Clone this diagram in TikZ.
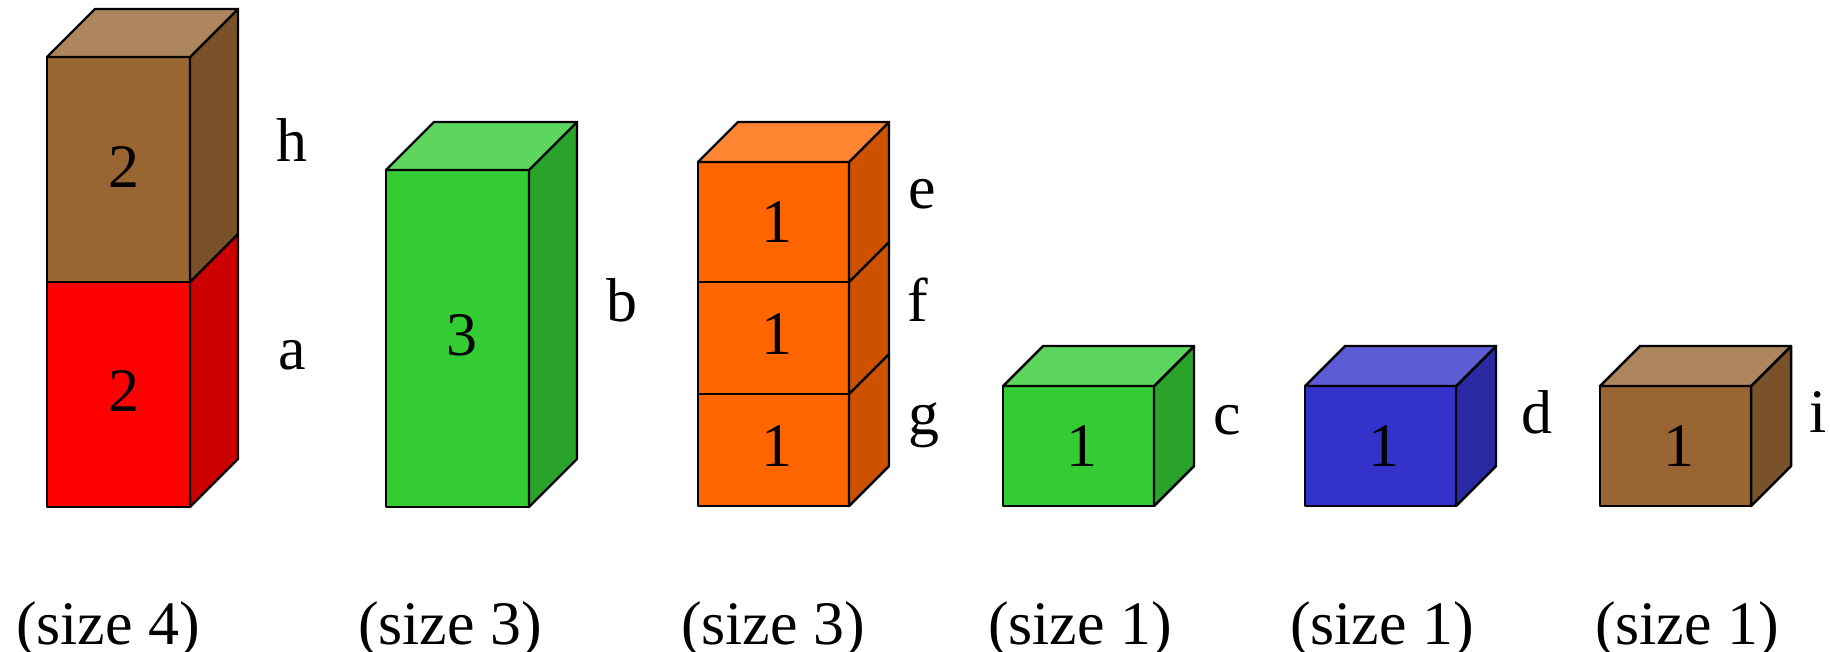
\documentclass[tikz,border=0pt]{standalone}
\usepackage{fontspec}
\setmainfont{Liberation Serif}
\definecolor{boxBrown}{RGB}{153,102,51}
\definecolor{boxRed}{RGB}{255,0,0}
\definecolor{boxGreen}{RGB}{51,204,51}
\definecolor{boxOrange}{RGB}{255,102,0}
\definecolor{boxBlue}{RGB}{51,51,204}
% front and side of one unit: left, top, bottom, width, depth, colour
\newcommand{\unitbody}[6]{%
\filldraw[fill=#6] (#1,#2) rectangle ({#1+#4},#3);
\filldraw[fill=#6!80!black] ({#1+#4},#2) -- ++(#5,-#5) -- ({#1+#4+#5},{#3-#5}) -- ({#1+#4},#3) -- cycle;}
% lid of a stack: left, top, width, depth, colour
\newcommand{\unitlid}[5]{%
\filldraw[fill=#5!80!white] (#1,#2) -- ++(#3,0) -- ++(#4,-#4) -- ++(-#3,0) -- cycle;}

\begin{document}
\begin{tikzpicture}[x=0.01cm,y=-0.01cm,line width=0.7pt,line join=round,
  txt/.style={font=\fontsize{17.6}{20}\selectfont,inner sep=0pt}]
\useasboundingbox (0,0) rectangle (1830,652);
% stack of size 4
\unitbody{47}{282}{507}{143}{48}{boxRed}
\unitbody{47}{57}{282}{143}{48}{boxBrown}
\unitlid{47}{57}{143}{48}{boxBrown}
\node[txt] (num-a) at (124,391) {2}; \node[txt] (num-h) at (124,167) {2};
\node[txt] (lbl-a) at (292,355) {a}; \node[txt] (lbl-h) at (292,140) {h};
% stack of size 3
\unitbody{386}{170}{507}{143}{48}{boxGreen}
\unitlid{386}{170}{143}{48}{boxGreen}
\node[txt] (num-b) at (462,335) {3};
\node[txt] (lbl-b) at (622,300) {b};
% stack of three units
\unitbody{698}{394}{506}{151}{40}{boxOrange}
\unitbody{698}{282}{394}{151}{40}{boxOrange}
\unitbody{698}{162}{282}{151}{40}{boxOrange}
\unitlid{698}{162}{151}{40}{boxOrange}
\node[txt] (num-g) at (777,446) {1}; \node[txt] (num-f) at (777,334) {1}; \node[txt] (num-e) at (777,222) {1};
\node[txt] (lbl-e) at (922,194) {e}; \node[txt] (lbl-f) at (918,300) {f}; \node[txt] (lbl-g) at (924,425) {g};
% single units
\unitbody{1003}{386}{506}{151}{40}{boxGreen}
\unitlid{1003}{386}{151}{40}{boxGreen}
\node[txt] (num-c) at (1082,446) {1};
\node[txt] (lbl-c) at (1227,420) {c};
\unitbody{1305}{386}{506}{151}{40}{boxBlue}
\unitlid{1305}{386}{151}{40}{boxBlue}
\node[txt] (num-d) at (1384,446) {1};
\node[txt] (lbl-d) at (1537,412) {d};
\unitbody{1600}{386}{506}{151}{40}{boxBrown}
\unitlid{1600}{386}{151}{40}{boxBrown}
\node[txt] (num-i) at (1679,446) {1};
\node[txt] (lbl-i) at (1818,412) {i};
% captions
\node[txt,anchor=base] (size-ah) at (108,644) {(size 4)};
\node[txt,anchor=base] (size-b) at (450,644) {(size 3)};
\node[txt,anchor=base] (size-efg) at (773,644) {(size 3)};
\node[txt,anchor=base] (size-c) at (1080,644) {(size 1)};
\node[txt,anchor=base] (size-d) at (1382,644) {(size 1)};
\node[txt,anchor=base] (size-i) at (1687,644) {(size 1)};
\end{tikzpicture}
\end{document}
